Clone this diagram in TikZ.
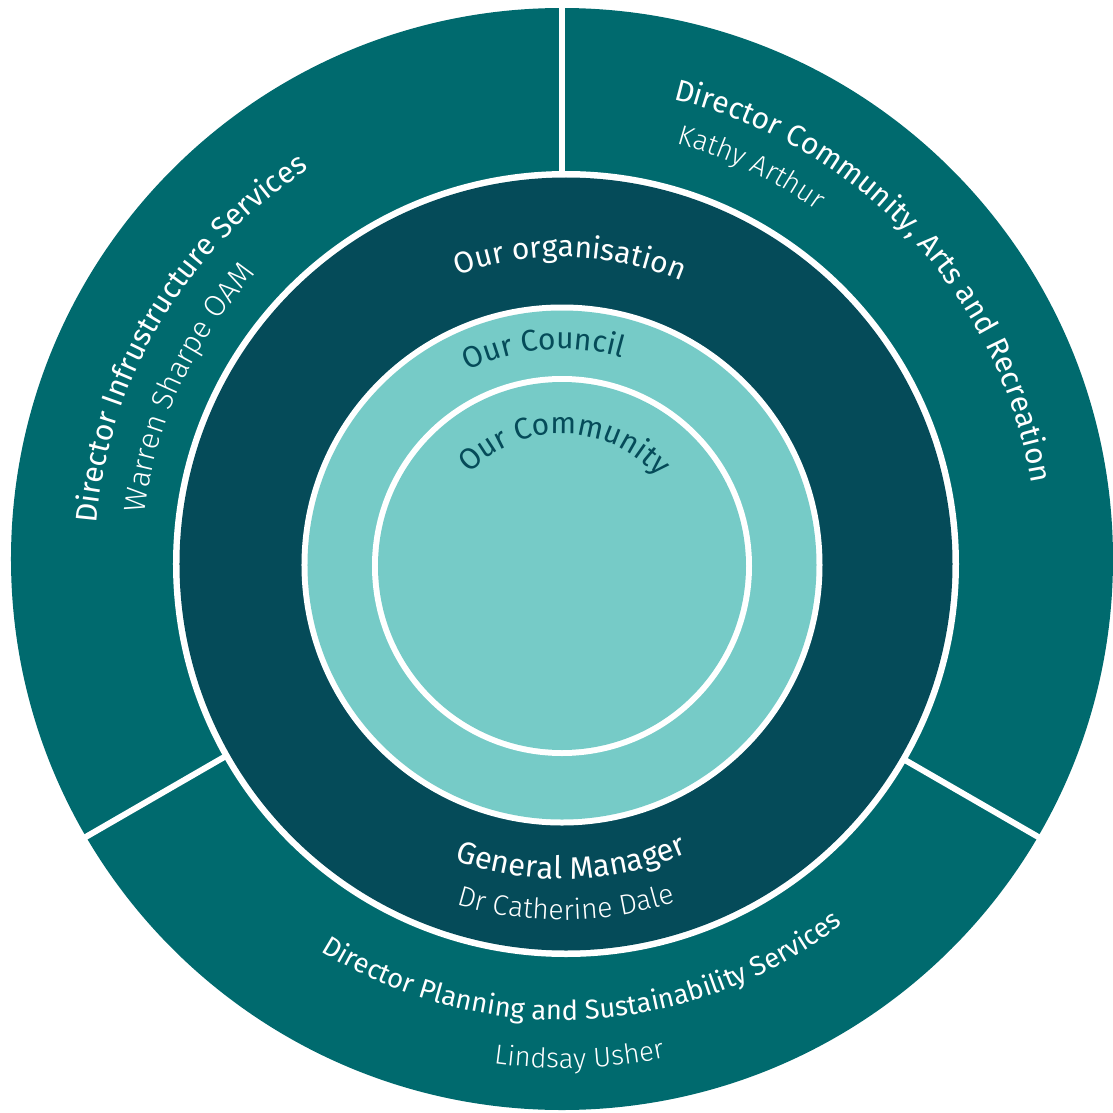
\documentclass[tikz,border=0pt]{standalone}
\usepackage{fontspec}
\setmainfont{Fira Sans}
\IfFontExistsTF{Fira Sans Light}
  {\newfontfamily\lightfont{Fira Sans Light}}
  {\newfontfamily\lightfont{Fira Sans}}
\usetikzlibrary{decorations.text}

\definecolor{ringteal}{RGB}{0,106,110}
\definecolor{orgteal}{RGB}{5,75,89}
\definecolor{coreteal}{RGB}{118,203,199}

% heading and name fonts at a given size
\newcommand\hf[1]{\fontsize{#1}{#1}\selectfont}
\newcommand\lf[1]{\lightfont\fontsize{#1}{#1}\selectfont}

\tikzset{
  divider/.style={draw=white, line width=6pt},
  curvedtext/.style={decorate, decoration={text along path, text align=center, text color=#1}},
}

% clockwise arc label: colour, font, mid angle, radius, text (tops point outward)
\newcommand\cwlabel[5]{%
  \path[curvedtext=#1, decoration={text={|#2|#5}}]
    (#3+70:#4) arc[start angle=#3+70, end angle=#3-70, radius=#4];}
% counter-clockwise arc label: tops point toward the centre
\newcommand\ccwlabel[5]{%
  \path[curvedtext=#1, decoration={text={|#2|#5}}]
    (#3-70:#4) arc[start angle=#3-70, end angle=#3+70, radius=#4];}

\begin{document}
\begin{tikzpicture}[x=1pt,y=1pt]
\useasboundingbox (-562,-550) rectangle (551,562);

% outer band of directorates
\fill[ringteal] (0,3) circle[radius=551];
\draw[divider] (0,0) -- (90:560);
\draw[divider] (0,0) -- (210:560);
\draw[divider] (0,0) -- (330:560);

% organisation disc
\fill[white] (4,-2) circle[radius=393];
\fill[orgteal] (4,-2) circle[radius=386.5];

% council ring and community core
\fill[white] (0,-3) circle[radius=260.5];
\fill[coreteal] (0,-3) circle[radius=254.5];
\fill[white] (0,-4) circle[radius=190];
\fill[coreteal] (0,-4) circle[radius=184];

% directorate labels
\cwlabel{white}{\hf{30}}{43}{476}{Director Community, Arts and Recreation}
\cwlabel{white}{\lf{28}}{64.4}{434}{Kathy Arthur}
\cwlabel{white}{\hf{30}}{149}{467}{Director Infrustructure Services}
\cwlabel{white}{\lf{30}}{155}{420}{Warren Sharpe OAM}
\ccwlabel{white}{\hf{27.3}}{273}{458}{Director Planning and Sustainability Services}
\ccwlabel{white}{\lf{27.5}}{272}{506}{Lindsay Usher}

% organisation labels
\cwlabel{white}{\hf{30}}{88.5}{305}{Our organisation}
\ccwlabel{white}{\hf{31}}{271.8}{317}{General Manager}
\ccwlabel{white}{\lf{28.3}}{270.7}{358}{Dr Catherine Dale}

% council and community labels
\cwlabel{orgteal}{\hf{30}}{95}{213}{Our Council}
\cwlabel{orgteal}{\hf{30}}{88.8}{128}{Our Community}
\end{tikzpicture}
\end{document}
